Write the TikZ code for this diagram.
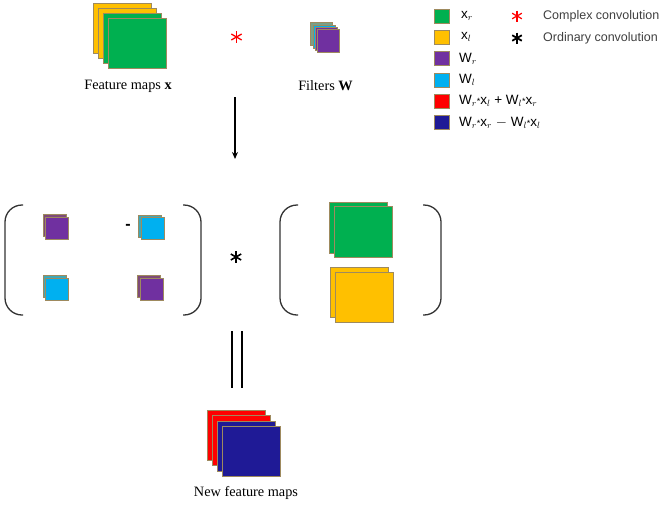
\documentclass[tikz,border=0pt]{standalone}
\usepackage{fontspec}
\setmainfont{Liberation Serif}
\newfontfamily\legendfont{Liberation Sans}
\usetikzlibrary{arrows.meta}

\definecolor{mapgreen}{HTML}{00B050}
\definecolor{mapyellow}{HTML}{FFC000}
\definecolor{filtpurple}{HTML}{7030A0}
\definecolor{filtcyan}{HTML}{00B0F0}
\definecolor{outred}{HTML}{FF0000}
\definecolor{outblue}{HTML}{1F1A96}
\definecolor{layeredge}{HTML}{9E8A5E}
\definecolor{backpurple}{HTML}{7E4A78}
\definecolor{backcyan}{HTML}{3FA8B8}
\definecolor{backgreen}{HTML}{7AA088}
\definecolor{bracketgray}{HTML}{333333}
\definecolor{legendgray}{HTML}{404040}

\newcommand{\convstar}{{\fontsize{9}{9}\selectfont*}}

\tikzset{
  layer/.style={draw=layeredge, line width=0.8pt, inner sep=0pt, anchor=north west},
  bigmap/.style={layer, minimum width=58pt, minimum height=50pt},
  filter/.style={layer, minimum width=22pt, minimum height=23pt},
  smallmap/.style={layer, minimum width=23pt, minimum height=22pt},
  keybox/.style={layer, minimum width=15pt, minimum height=14pt, anchor=center},
  caption/.style={font=\fontsize{14.3}{16}\selectfont, inner sep=0pt},
  keytext/.style={font=\legendfont\fontsize{13.5}{15}\selectfont, anchor=west, inner sep=0pt},
  keynote/.style={font=\legendfont\fontsize{12.5}{14}\selectfont, text=legendgray, anchor=west, inner sep=0pt},
  paren/.style={draw=bracketgray, line width=1.3pt, rounded corners=17pt},
  pics/starmark/.style={code={
    \draw[line cap=butt] (0,-6) -- (0,6);
    \draw (-5.2,-3) -- (5.2,3);
    \draw (-5.2,3) -- (5.2,-3);
  }},
  pics/keystar/.style={code={
    \draw (0,-5.5) -- (0,5.5);
    \draw (-4.8,-2.75) -- (4.8,2.75);
    \draw (-4.8,2.75) -- (4.8,-2.75);
  }}
}

\begin{document}
\begin{tikzpicture}[x=1pt, y=-1pt]
\useasboundingbox (0,0) rectangle (660,506);

% ---- input feature maps (imaginary behind, real in front)
\node[bigmap, fill=mapyellow] (xi1) at (93,3) {};
\node[bigmap, fill=mapyellow] (xi2) at (98,8) {};
\node[bigmap, fill=mapgreen]  (xr1) at (103,13) {};
\node[bigmap, fill=mapgreen]  (xr2) at (108,18) {};
\node[caption] (fmlabel) at (128,86) {Feature maps \textbf{x}};

% ---- complex convolution sign
\pic[draw=outred, line width=1.3pt] at (236.5,37) {starmark};

% ---- filter bank
\node[filter, fill=backgreen]  (w1) at (310,22) {};
\node[filter, fill=filtcyan]   (w2) at (312.5,24.5) {};
\node[filter, fill=filtpurple] (w3) at (315,27) {};
\node[filter, fill=filtpurple] (w4) at (317,29) {};
\node[caption] (wlabel) at (325.5,86) {Filters \textbf{W}};

% ---- downward step
\coordinate (arrowtop) at (235,97);
\coordinate (arrowbot) at (235,159);
\draw[line width=1.5pt, -{Stealth[length=7pt,width=6pt]}] (arrowtop) -- (arrowbot);

% ---- filter block matrix
\draw[paren] (23,205) -- (5,205) -- (5,315) -- (23,315);
\draw[paren] (183,205) -- (201,205) -- (201,315) -- (183,315);

\node[smallmap, fill=backpurple] (m11b) at (43,214) {};
\node[smallmap, fill=filtpurple] (m11)  at (45,216.5) {};
\node[smallmap, fill=backcyan]   (m12b) at (138,215) {};
\node[smallmap, fill=filtcyan]   (m12)  at (140.5,217) {};
\node[smallmap, fill=backcyan]   (m21b) at (43,275) {};
\node[smallmap, fill=filtcyan]   (m21)  at (45,277.5) {};
\node[smallmap, fill=backpurple] (m22b) at (137,275) {};
\node[smallmap, fill=filtpurple] (m22)  at (139.5,277.5) {};
\node[font=\legendfont\bfseries\fontsize{16}{16}\selectfont, inner sep=0pt] (minus) at (128,227) {-};

% ---- ordinary convolution sign
\pic[draw=black, line width=1.6pt] at (236,257) {starmark};

% ---- input vector
\draw[paren] (298,205) -- (280,205) -- (280,315) -- (298,315);
\draw[paren] (423,205) -- (441,205) -- (441,315) -- (423,315);

\node[bigmap, minimum height=51pt, fill=mapgreen]  (vr1) at (329,202) {};
\node[bigmap, minimum height=51pt, fill=mapgreen]  (vr2) at (334,206) {};
\node[bigmap, fill=mapyellow] (vi1) at (330,267) {};
\node[bigmap, fill=mapyellow] (vi2) at (335,272) {};

% ---- equals sign
\coordinate (eqtop) at (232,331);
\coordinate (eqbot) at (232,388);
\draw[line width=1.6pt] (eqtop) -- (eqbot);
\draw[line width=1.6pt] ([xshift=10pt]eqtop) -- ([xshift=10pt]eqbot);

% ---- output feature maps
\node[bigmap, fill=outred]  (o1) at (207,410) {};
\node[bigmap, fill=outred]  (o2) at (212,415) {};
\node[bigmap, fill=outblue] (o3) at (217,421) {};
\node[bigmap, fill=outblue] (o4) at (222,426) {};
\node[caption] (nlabel) at (246,493) {New feature maps};

% ---- legend
\node[keybox, fill=mapgreen]   (k1) at (442,16) {};
\node[keybox, fill=mapyellow]  (k2) at (442,37) {};
\node[keybox, fill=filtpurple] (k3) at (442,58.5) {};
\node[keybox, fill=filtcyan]   (k4) at (442,80) {};
\node[keybox, fill=outred]     (k5) at (442,101) {};
\node[keybox, fill=outblue]    (k6) at (442,122.5) {};

\node[keytext] (t1) at (461,16) {x$_{r}$};
\node[keytext] (t2) at (461,37) {x$_{l}$};
\node[keytext] (t3) at (459,58.5) {W$_{r}$};
\node[keytext] (t4) at (459,80) {W$_{l}$};
\node[keytext] (t5) at (459,101) {W$_{r}$\convstar x$_{l}$ + W$_{l}$\convstar x$_{r}$};
\node[keytext] (t6) at (459,122.5) {W$_{r}$\convstar x$_{r}$ $-$ W$_{l}$\convstar x$_{l}$};

\pic[draw=outred, line width=1.2pt] at (517,16) {keystar};
\pic[draw=black, line width=1.8pt] at (517,38) {keystar};
\node[keynote] (c1) at (543,16) {Complex convolution};
\node[keynote] (c2) at (543,38) {Ordinary convolution};
\end{tikzpicture}
\end{document}
